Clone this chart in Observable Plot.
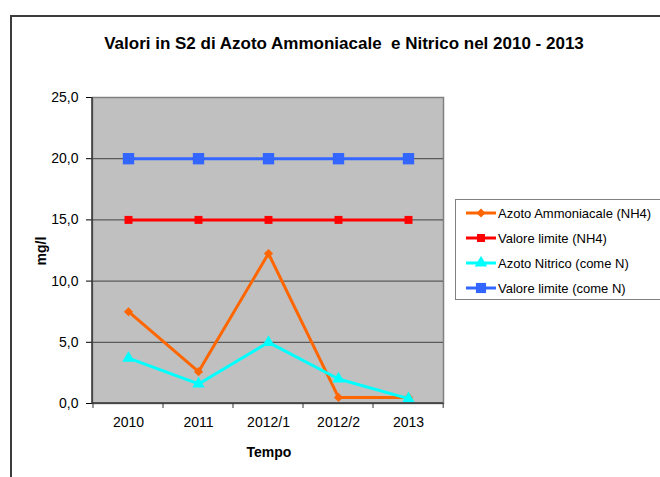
<!DOCTYPE html>
<html>
<head>
<meta charset="utf-8">
<script src="https://cdn.jsdelivr.net/npm/d3@7"></script>
<script src="https://cdn.jsdelivr.net/npm/@observablehq/plot@0.6"></script>
<style>
  html, body { margin: 0; padding: 0; background: #fff; }
  body { width: 660px; height: 477px; overflow: hidden; font-family: "Liberation Sans", Arial, sans-serif; }
  #wrap { position: relative; width: 660px; height: 477px; overflow: hidden; }
  #chart svg { display: block; position: absolute; left: 0; top: 0; }
  .frame { position: absolute; left: 10px; top: 15px; width: 700px; height: 520px; border-left: 2px solid #3c3c3c; border-top: 2px solid #3c3c3c; box-sizing: border-box; }
  .title { position: absolute; left: 0; width: 688px; top: 33px; text-align: center; font-weight: bold; font-size: 17px; line-height: 22px; color: #000; }
  .xtitle { position: absolute; left: 219px; width: 100px; top: 443px; text-align: center; font-weight: bold; font-size: 14px; line-height: 18px; }
  .ytitle { position: absolute; left: 11px; width: 60px; top: 242px; text-align: center; font-weight: bold; font-size: 14px; line-height: 18px; transform: rotate(-90deg); }
  .legend { position: absolute; left: 455px; top: 199px; width: 230px; height: 101px; border: 1px solid #808080; box-sizing: border-box; background: #fff; }
  .legend .item { position: absolute; left: 10px; height: 20px; display: flex; align-items: center; font-size: 13px; white-space: nowrap; }
  .legend svg { margin-right: 2px; }
</style>
</head>
<body>
<div id="wrap">
  <div id="chart"></div>
  <div class="frame"></div>
  <div class="title">Valori in S2 di Azoto Ammoniacale&nbsp; e Nitrico nel 2010 - 2013</div>
  <div class="xtitle">Tempo</div>
  <div class="ytitle">mg/l</div>
  <div class="legend" id="legend"></div>
</div>
<script>
// ---- data ----
const categories = ["2010", "2011", "2012/1", "2012/2", "2013"];
const azotoAmmoniacale = [7.5, 2.6, 12.25, 0.5, 0.5];
const valoreLimiteNH4 = [15, 15, 15, 15, 15];
const azotoNitrico = [3.7, 1.6, 5.0, 2.0, 0.4];
const valoreLimiteN = [20, 20, 20, 20, 20];
const seriesNames = ["Azoto Ammoniacale (NH4)", "Valore limite (NH4)", "Azoto Nitrico (come N)", "Valore limite (come N)"];
const seriesColors = ["#FF6600", "#FF0000", "#00FFFF", "#3366FF"];
const seriesSymbols = ["diamond2", "square", "triangle", "square"];
const seriesRadius = [4.1, 4.5, 4.6, 6.4];
const yTicks = [0, 5, 10, 15, 20, 25];
const gridValues = [5, 10, 15, 20];

const seriesValues = [azotoAmmoniacale, valoreLimiteNH4, azotoNitrico, valoreLimiteN];
const records = [];
seriesValues.forEach((vals, s) => {
  vals.forEach((v, i) => records.push({series: seriesNames[s], cat: categories[i], value: v, idx: s}));
});

const W = 660, H = 477, ML = 92, MR = 217, MT = 97, MB = 74;

// boundary ticks on x axis and the axis lines
function axisLines(index, scales, values, dimensions) {
  const g = d3.create("svg:g");
  const x = scales.x, y = scales.y;
  const bw = (dimensions.width - dimensions.marginLeft - dimensions.marginRight) / categories.length;
  const y0 = y(0);
  const bounds = categories.map(c => x(c)).concat([x(categories[categories.length - 1]) + bw]);
  g.selectAll("line.t").data(bounds).join("line")
    .attr("x1", d => d).attr("x2", d => d)
    .attr("y1", y0).attr("y2", y0 + 5)
    .attr("stroke", "#333").attr("stroke-width", 1);
  g.append("line")
    .attr("x1", dimensions.marginLeft).attr("x2", dimensions.width - dimensions.marginRight)
    .attr("y1", y0).attr("y2", y0).attr("stroke", "#333").attr("stroke-width", 1.5);
  g.append("line")
    .attr("x1", dimensions.marginLeft).attr("x2", dimensions.marginLeft)
    .attr("y1", dimensions.marginTop).attr("y2", y0).attr("stroke", "#333").attr("stroke-width", 1.5);
  return g.node();
}

const marks = [
  Plot.frame({fill: "#C0C0C0", stroke: "#808080", strokeWidth: 1.5}),
  Plot.ruleY(gridValues, {stroke: "#5a5a5a", strokeWidth: 1.2})
];
seriesNames.forEach((name, s) => {
  const data = records.filter(d => d.idx === s);
  marks.push(Plot.line(data, {x: "cat", y: "value", stroke: seriesColors[s], strokeWidth: 3}));
  marks.push(Plot.dot(data, {x: "cat", y: "value", fill: seriesColors[s], symbol: seriesSymbols[s], r: seriesRadius[s], stroke: "none"}));
});
marks.push(axisLines);

const plot = Plot.plot({
  width: W, height: H,
  marginLeft: ML, marginRight: MR, marginTop: MT, marginBottom: MB,
  style: {fontFamily: "'Liberation Sans', Arial, sans-serif", fontSize: "14px", background: "transparent", color: "#000", overflow: "visible"},
  x: {type: "band", domain: categories, padding: 0, label: null, tickSize: 0, tickPadding: 14},
  y: {domain: [0, 25], ticks: yTicks, label: null, tickSize: 6, tickPadding: 8,
      tickFormat: d => d.toFixed(1).replace(".", ",")},
  marks
});
document.getElementById("chart").appendChild(plot);

// ---- legend ----
const legend = document.getElementById("legend");
const symMap = {diamond2: d3.symbolDiamond2, square: d3.symbolSquare, triangle: d3.symbolTriangle};
seriesNames.forEach((name, s) => {
  const item = document.createElement("div");
  item.className = "item";
  item.style.top = (3 + s * 25) + "px";
  const r = seriesRadius[s];
  const path = d3.symbol(symMap[seriesSymbols[s]], Math.PI * r * r * (s === 3 ? 0.8 : 1))();
  item.innerHTML = `<svg width="30" height="14" viewBox="0 0 30 14"><line x1="0" x2="30" y1="7" y2="7" stroke="${seriesColors[s]}" stroke-width="3"/><path d="${path}" transform="translate(15,7)" fill="${seriesColors[s]}"/></svg><span>${name}</span>`;
  legend.appendChild(item);
});
</script>
</body>
</html>
